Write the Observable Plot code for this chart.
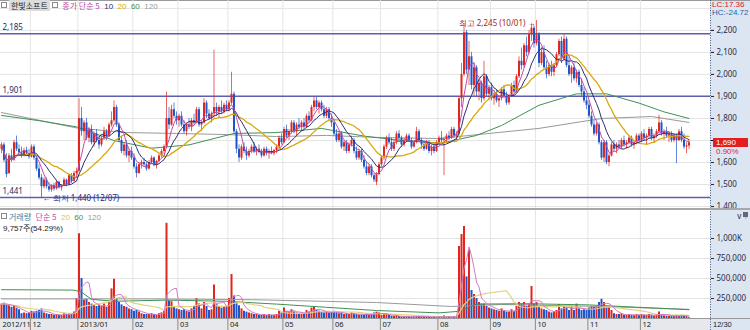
<!DOCTYPE html>
<html><head><meta charset="utf-8">
<script src="https://cdn.jsdelivr.net/npm/d3@7"></script>
<script src="https://cdn.jsdelivr.net/npm/@observablehq/plot@0.6"></script>
<style>
body{margin:0;background:#fff;}
#c{position:relative;width:750px;height:330px;overflow:hidden;font-family:"Liberation Sans","Noto Sans CJK KR",sans-serif;}
#c svg{position:absolute;left:0;}
.t{position:absolute;font-size:8px;white-space:nowrap;line-height:9px;font-family:"Liberation Sans","Noto Sans CJK KR",sans-serif;}
.k{font-family:"Noto Sans CJK KR",sans-serif;}
.sq{display:inline-block;width:4px;height:4px;border:1px solid #8a8a8a;background:#fff;vertical-align:1px;margin-right:2px;}
.bg{position:absolute;}
</style></head><body><div id="c"></div>
<script>
// ---- daily OHLC (KRW) and volume (thousand shares), 2012-11-14 .. 2013-12-30 ----
const open = [
1660,1680,1610,1550,1630,1610,1690,1660,1645,1630,1655,1640,
1625,1670,1620,1570,1530,1490,1520,1490,1475,1495,1480,1510,1485,1495,1520,1500,1540,1515,1550,
1560,1800,1740,1780,1710,1750,1690,1730,1700,1680,1710,1740,1720,1770,1790,1850,1770,1700,1650,1680,1630,1650,
1620,1580,1550,1590,1600,1590,1570,1600,1620,1590,1605,1630,1650,1670,1800,1770,1840,1810,
1790,1810,1770,1740,1770,1760,1790,1780,1840,1770,1780,1870,1820,1800,1820,1850,1830,1850,1830,1860,
1840,1870,1910,1740,1660,1620,1670,1650,1630,1650,1670,1650,1660,1645,1630,1660,1640,1650,1640,1655,1670,1710,
1690,1750,1720,1740,1780,1740,1770,1760,1780,1760,1810,1790,1850,1880,1850,1870,1840,1810,1840,1800,
1780,1730,1700,1730,1670,1690,1650,1680,1700,1650,1620,1650,1610,1580,1550,1580,1540,1510,1545,
1590,1620,1670,1710,1690,1660,1690,1730,1710,1680,1700,1720,1700,1670,1690,1740,1700,1680,1660,1690,1650,1670,1650,
1690,1710,1700,1705,1720,1710,1750,1720,1730,1890,2000,2190,2020,2080,1950,2030,1920,1960,1890,1990,1910,
1940,1890,1910,1880,1890,1930,1900,1870,1900,1950,1920,1990,2060,2040,2130,2100,2180,2210,
2140,2180,2050,2100,2030,2000,2040,2010,2040,2090,2150,2070,2160,2040,2000,2030,1980,2010,1950,1920,1880,
1860,1810,1770,1730,1770,1690,1620,1690,1600,1630,1680,1660,1680,1670,1700,1680,1690,1710,1680,1690,1720,
1700,1730,1710,1720,1750,1710,1720,1740,1780,1730,1740,1720,1730,1700,1720,1700,1740,1700,1670,1675];
const high = [
1690,1690,1640,1640,1660,1700,1720,1680,1670,1665,1670,1660,
1680,1680,1630,1590,1545,1530,1530,1510,1500,1505,1520,1515,1500,1530,1525,1545,1550,1560,1575,
1890,1850,1790,1800,1760,1770,1740,1750,1720,1720,1760,1750,1780,1830,1880,1860,1780,1720,1690,1700,1660,1670,
1640,1595,1600,1610,1620,1600,1610,1630,1625,1610,1640,1660,1680,1920,1850,1860,1870,1830,
1820,1830,1790,1780,1800,1800,1820,1850,1850,1790,1890,1880,1840,1830,2110,1870,1860,1880,1870,1880,
1880,2010,1920,1750,1680,1680,1690,1670,1660,1680,1690,1670,1680,1660,1670,1670,1660,1670,1660,1680,1720,1730,
1760,1770,1750,1790,1790,1780,1800,1790,1800,1820,1830,1860,1900,1895,1880,1880,1860,1850,1850,1820,
1790,1750,1740,1740,1700,1700,1690,1720,1710,1670,1660,1660,1630,1600,1590,1590,1550,1555,1600,
1630,1680,1720,1730,1710,1700,1740,1745,1720,1710,1730,1730,1710,1700,1760,1750,1710,1700,1700,1700,1680,1690,1700,
1720,1740,1715,1730,1740,1760,1760,1740,1900,2050,2230,2200,2150,2100,2050,2040,1980,1970,2060,2000,1950,
1960,1920,1930,1900,1940,1950,1920,1910,1960,1970,2000,2080,2120,2140,2170,2200,2230,2220,
2245,2190,2120,2130,2060,2050,2060,2050,2100,2160,2170,2180,2170,2080,2040,2050,2020,2020,1980,1940,1900,
1880,1830,1790,1780,1780,1700,1700,1700,1640,1690,1700,1690,1700,1710,1720,1700,1720,1720,1700,1730,1730,
1740,1750,1730,1760,1760,1730,1750,1815,1790,1750,1760,1740,1740,1730,1730,1750,1760,1730,1690,1700];
const low = [
1640,1600,1530,1545,1600,1605,1650,1630,1620,1625,1630,1615,
1620,1610,1560,1520,1440,1480,1480,1465,1465,1470,1475,1480,1470,1490,1490,1495,1505,1510,1540,
1555,1720,1700,1700,1690,1680,1670,1690,1660,1670,1700,1700,1715,1760,1780,1760,1690,1640,1630,1620,1600,1610,
1570,1530,1545,1570,1580,1560,1565,1590,1580,1570,1600,1620,1635,1665,1750,1765,1800,1770,
1760,1760,1730,1720,1750,1740,1770,1775,1760,1740,1775,1800,1790,1780,1800,1810,1800,1820,1820,1830,
1830,1860,1730,1640,1600,1610,1640,1610,1620,1640,1640,1630,1640,1620,1625,1630,1615,1635,1630,1640,1665,1680,
1685,1710,1700,1730,1730,1720,1750,1740,1750,1755,1780,1785,1830,1840,1820,1830,1800,1800,1790,1760,
1720,1690,1690,1660,1650,1640,1640,1670,1640,1610,1610,1600,1570,1540,1540,1530,1510,1495,1540,
1580,1610,1660,1680,1650,1650,1680,1700,1670,1670,1690,1690,1660,1665,1685,1690,1660,1650,1655,1640,1630,1640,1645,
1680,1690,1540,1690,1700,1705,1710,1700,1720,1850,1990,2000,1950,1930,1900,1900,1880,1870,1880,1900,1880,
1880,1860,1870,1850,1880,1890,1860,1860,1895,1910,1915,1980,2020,2030,2080,2090,2150,2120,
2130,2030,2040,2020,1980,1990,1990,1990,2030,2080,2050,2060,2030,1990,1960,1970,1960,1940,1900,1870,1840,
1800,1760,1720,1720,1680,1610,1600,1590,1580,1625,1650,1640,1660,1660,1670,1660,1680,1670,1660,1680,1690,
1690,1700,1680,1710,1700,1690,1710,1730,1720,1700,1710,1690,1690,1690,1595,1695,1690,1660,1640,1660];
const close = [
1680,1610,1545,1630,1610,1690,1660,1645,1630,1655,1640,1625,
1670,1620,1570,1530,1490,1520,1490,1475,1495,1480,1510,1485,1495,1520,1500,1540,1515,1550,1560,
1800,1740,1780,1710,1750,1690,1730,1700,1680,1710,1740,1720,1770,1790,1850,1770,1700,1650,1680,1630,1650,1620,
1580,1550,1590,1600,1590,1570,1600,1620,1590,1605,1630,1650,1670,1800,1770,1840,1810,1790,
1810,1770,1740,1770,1760,1790,1780,1840,1770,1780,1870,1820,1800,1820,1850,1830,1850,1830,1860,1840,
1870,1910,1740,1660,1620,1670,1650,1630,1650,1670,1650,1660,1645,1630,1660,1640,1650,1640,1655,1670,1710,1690,
1750,1720,1740,1780,1740,1770,1760,1780,1760,1810,1790,1850,1880,1850,1870,1840,1810,1840,1800,1780,
1730,1700,1730,1670,1690,1650,1680,1700,1650,1620,1650,1610,1580,1550,1580,1540,1520,1545,1590,
1620,1670,1710,1690,1660,1690,1730,1710,1680,1700,1720,1700,1670,1690,1740,1700,1680,1660,1690,1650,1670,1650,1690,
1710,1700,1705,1720,1710,1750,1720,1730,1890,2000,2190,2020,2080,1950,2030,1920,1960,1890,1990,1910,1940,
1890,1910,1880,1890,1930,1900,1870,1900,1950,1920,1990,2060,2040,2130,2100,2180,2210,2140,
2180,2050,2100,2030,2000,2040,2010,2040,2090,2150,2070,2160,2040,2000,2030,1980,2010,1950,1920,1880,1860,
1810,1770,1730,1770,1690,1620,1690,1600,1630,1680,1660,1680,1670,1700,1680,1690,1710,1680,1690,1720,1700,
1730,1710,1720,1750,1710,1720,1740,1780,1730,1740,1720,1730,1700,1720,1700,1740,1700,1670,1675,1690];
const volK = [
180,190,170,160,140,150,130,110,60,70,60,70,
90,80,90,100,120,70,60,50,50,40,50,40,40,60,50,60,50,80,250,
1060,500,230,240,200,180,170,150,160,150,180,140,200,370,490,250,200,170,150,140,120,110,
90,100,80,60,50,50,50,60,50,40,60,70,90,1190,220,210,150,120,
110,100,110,90,80,120,150,250,180,120,200,150,100,110,420,180,150,130,150,140,
250,550,280,200,160,120,90,80,70,60,50,50,40,40,50,40,50,40,40,50,90,70,
130,90,80,110,80,70,60,70,60,100,80,130,150,100,90,80,70,80,70,80,
90,80,60,70,50,60,50,70,60,50,45,45,50,60,45,50,70,80,70,
40,50,60,40,30,25,35,25,20,20,25,20,20,20,30,25,20,20,25,20,20,20,25,
25,20,30,20,20,25,20,25,900,1050,1150,520,860,350,300,250,200,180,180,150,130,
120,110,100,90,120,90,80,80,110,90,150,200,180,200,150,180,400,180,
200,150,120,110,100,80,70,80,100,175,120,150,130,100,150,100,180,120,100,110,100,
130,150,140,150,200,240,200,150,140,100,60,50,50,60,40,40,50,40,40,50,40,
50,40,40,50,40,30,50,80,50,40,30,30,30,30,40,30,40,30,30,9.757];

// long moving averages: [day index, value]
const priceMa60 = [[0,1814],[15,1790],[30,1762],[45,1700],[60,1665],[75,1680],[93,1732],[110,1736],[128,1755],[145,1720],[160,1700],[176,1688],[190,1723],[200,1768],[215,1860],[230,1912],[242,1912],[255,1870],[265,1830],[275,1800]];
const priceMa120 = [[0,1827],[30,1757],[50,1736],[70,1732],[90,1727],[110,1718],[130,1723],[150,1714],[175,1709],[195,1732],[215,1755],[240,1800],[260,1809],[275,1782]];
const volMa60 = [[0,360],[29,355],[32,330],[36,240],[45,215],[66,230],[90,215],[110,180],[130,140],[150,100],[175,70],[183,90],[190,180],[210,185],[235,170],[255,140],[275,110]];
const volMa120 = [[0,245],[60,245],[100,235],[150,200],[180,150],[200,175],[240,150],[275,115]];

const refLevels = [2185, 1901, 1441];
const priceTicks = [1400,1500,1600,1700,1800,1900,2000,2100,2200];
const priceTickLabels = [1400,1500,1600,1800,1900,2000,2100,2200]; // 1,700 sits under the last-price box
const volTicks = [250000,500000,750000,1000000];
const monthStarts = [0,12,31,53,71,91,113,133,152,175,196,214,235,256];
const monthLabels = ["2012/11","12","2013/01","02","03","04","05","06","07","08","09","10","11","12"];
const hiLabel = {i:214, p:2245, text:"최고 2,245 (10/01) →"};
const loLabel = {i:16, p:1440, text:"← 최저 1,440 (12/07)"};

const RED="#e0261e", BLUE="#1f55c6";
const C5="#c14aa8", C10="#2e2e70", C20="#d9a90c", C60="#3f9155", C120="#9a9a9a";
const X_DOMAIN=[-0.4, 283.6];

const bars = close.map((c,i)=>({i,o:open[i],h:high[i],l:low[i],c,v:volK[i]*1000,col:c>=open[i]?RED:BLUE}));
const fmt = d3.format(",");
const root = document.getElementById("c");

function add(html){root.insertAdjacentHTML("beforeend",html);}
add('<div class="bg" style="left:710px;top:0;width:40px;height:330px;background:#dce6f2"></div>');
add('<div class="bg" style="left:0;top:318px;width:710px;height:12px;background:#e6e8ec"></div>');
add('<div class="bg" style="left:0;top:318px;width:750px;height:1px;background:#9a9a9a"></div>');
add('<div class="bg" style="left:0;top:0;width:750px;height:1px;background:#9a9a9a"></div>');

const common = {width:750, marginLeft:0, marginRight:40, style:{background:"transparent",overflow:"visible"}, x:{domain:X_DOMAIN, axis:null}, color:{type:"identity"}};

const pricePlot = Plot.plot({
  ...common, height:210, marginTop:0, marginBottom:0,
  y:{domain:[1382,2336], axis:null},
  marks:[
    Plot.ruleY(priceTicks.concat([2300]),{stroke:"#e4e4e4"}),
    Plot.ruleX(monthStarts.slice(1),{x:d=>d-0.45, stroke:"#e4e4e4"}),
    Plot.ruleY(refLevels,{stroke:"#5d5db2", strokeWidth:1.6}),
    Plot.text(refLevels,{x:X_DOMAIN[0], y:d=>d, text:d=>fmt(d), dy:-6, dx:2, textAnchor:"start", fill:"#1e2a62", fontSize:8}),
    Plot.line(priceMa120,{x:d=>d[0], y:d=>d[1], stroke:C120, strokeWidth:1}),
    Plot.line(priceMa60,{x:d=>d[0], y:d=>d[1], stroke:C60, strokeWidth:1}),
    Plot.ruleX(bars,{x:"i", y1:"l", y2:"h", stroke:"col", strokeWidth:1, strokeOpacity:0.7}),
    Plot.ruleX(bars,{x:"i", y1:"o", y2:"c", stroke:"col", strokeWidth:2}),
    Plot.lineY(bars, Plot.windowY({k:20, anchor:"end", strict:false},{x:"i", y:"c", stroke:C20, strokeWidth:1.3})),
    Plot.lineY(bars, Plot.windowY({k:10, anchor:"end", strict:false},{x:"i", y:"c", stroke:C10, strokeWidth:1})),
    Plot.lineY(bars, Plot.windowY({k:5, anchor:"end", strict:false},{x:"i", y:"c", stroke:C5, strokeWidth:1})),
    Plot.text([hiLabel],{x:"i", y:"p", text:"text", textAnchor:"end", dx:-1, dy:3, fill:"#a81e1e", fontSize:8}),
    Plot.text([loLabel],{x:"i", y:"p", text:"text", textAnchor:"start", dx:1, dy:1, fill:"#1e2a80", fontSize:8}),
    Plot.ruleX([X_DOMAIN[1]],{stroke:"#4a5a80", strokeDasharray:"1,1.5"}),
    Plot.axisY({anchor:"right", ticks:priceTicks, tickFormat:()=>"", tickSize:3}),
    Plot.axisY({anchor:"right", ticks:priceTickLabels, tickFormat:fmt, tickSize:3, tickPadding:3, fontSize:8, color:"#2a2a40"})
  ]
});
pricePlot.style.top="0px";
root.appendChild(pricePlot);

const volPlot = Plot.plot({
  ...common, height:120, marginTop:0, marginBottom:12,
  y:{domain:[0,1350000], axis:null},
  marks:[
    Plot.ruleY(volTicks,{stroke:"#e4e4e4"}),
    Plot.ruleX(monthStarts.slice(1),{x:d=>d-0.45, stroke:"#e4e4e4"}),
    Plot.ruleX(bars,{x:"i", y1:0, y2:"v", stroke:"col", strokeWidth:2}),
    Plot.line(volMa120,{x:d=>d[0], y:d=>d[1]*1000, stroke:C120, strokeWidth:1}),
    Plot.line(volMa60,{x:d=>d[0], y:d=>d[1]*1000, stroke:C60, strokeWidth:1}),
    Plot.lineY(bars, Plot.windowY({k:20, anchor:"end", strict:false},{x:"i", y:"v", stroke:"#e2d27a", strokeWidth:1.2})),
    Plot.lineY(bars, Plot.windowY({k:5, anchor:"end", strict:false},{x:"i", y:"v", stroke:"#cf7cc6", strokeWidth:1})),
    Plot.ruleX(monthStarts.slice(1),{x:d=>d-0.45, y1:0, y2:-150000, stroke:"#8a8a8a"}),
    Plot.text(monthStarts,{x:d=>d-0.45, y:-78000, text:(d,i)=>monthLabels[i], textAnchor:"start", dx:2, fontSize:7.5, fill:"#222"}),
    Plot.ruleX([X_DOMAIN[1]],{y1:-150000, y2:1350000, stroke:"#4a5a80", strokeDasharray:"1,1.5"}),
    Plot.axisY({anchor:"right", ticks:volTicks, tickFormat:d=>d>=1e6?fmt(d/1000)+"K":fmt(d), tickSize:3, tickPadding:3, fontSize:8, color:"#2a2a40"})
  ]
});
volPlot.style.top="210px";
root.appendChild(volPlot);

// panel separator
add('<div class="bg" style="left:0;top:208px;width:750px;height:2px;background:#a8a8a8"></div>');
// legends & labels
add('<div class="t" style="left:1px;top:1px"><span class="sq"></span><span class="k" style="background:#dcdcdc;padding:0 2px;color:#222">한빛소프트</span> <span class="sq"></span> <span class="k" style="color:'+C5+'">종가 단순 5</span> &nbsp;<span style="color:'+C10+'">10</span> &nbsp;<span style="color:'+C20+'">20</span> &nbsp;<span style="color:'+C60+'">60</span> &nbsp;<span style="color:'+C120+'">120</span></div>');
add('<div class="t" style="left:1px;top:212px"><span class="sq"></span><span class="k" style="color:#2f86a6">거래량</span> &nbsp;<span class="k" style="color:'+C5+'">단순 5</span> &nbsp;<span style="color:#d6c35a">20</span> &nbsp;<span style="color:'+C60+'">60</span> &nbsp;<span style="color:'+C120+'">120</span></div>');
add('<div class="t" style="left:3px;top:223px;color:#222"><span>9,757</span><span class="k">주</span><span>(54.29%)</span></div>');
add('<div class="t" style="left:712px;top:1px;color:#d02020;line-height:8px">LC:17.36</div>');
add('<div class="t" style="left:712px;top:9px;color:#2a5fa8;line-height:8px">HC:-24.72</div>');
add('<div class="bg" style="left:713px;top:138px;width:35px;height:9px;background:#e41e1e"></div>');
add('<div class="t" style="left:716px;top:138px;color:#fff;line-height:9px">1,690</div>');
add('<div class="t" style="left:716px;top:148px;color:#e41e1e;line-height:8px">0.90%</div>');
add('<div class="t" style="left:713px;top:320px;color:#222;font-size:7.5px">12/30</div>');
add('<div class="bg" style="left:743px;top:212px;width:5px;height:5px;background:#667;"></div>');
</script></body></html>
